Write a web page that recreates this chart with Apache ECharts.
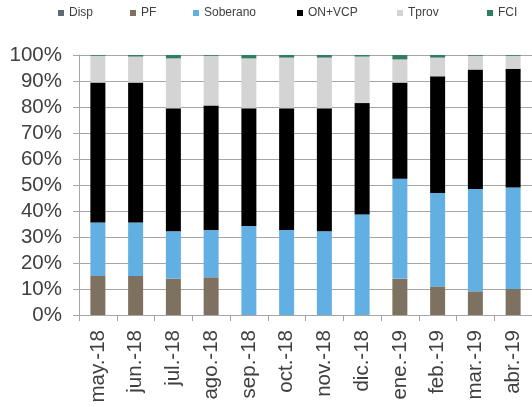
<!DOCTYPE html>
<html>
<head>
<meta charset="utf-8">
<script src="https://cdn.jsdelivr.net/npm/echarts@6/dist/echarts.min.js"></script>
<style>html,body{margin:0;padding:0;background:#fff;}#c{width:532px;height:407px;}</style>
</head>
<body>
<div id="c"></div>
<script>
const categories = ['may.-18','jun.-18','jul.-18','ago.-18','sep.-18','oct.-18','nov.-18','dic.-18','ene.-19','feb.-19','mar.-19','abr.-19'];
const disp     = [0, 0, 0, 0, 0, 0, 0, 0, 0, 0, 0, 0];
const pf       = [15.0, 15.0, 14.0, 14.5, 0, 0, 0, 0, 14.0, 11.0, 9.1, 10.0];
const soberano = [20.6, 20.6, 18.2, 18.2, 34.2, 32.7, 32.2, 38.7, 38.4, 35.9, 39.4, 39.0];
const onvcp    = [53.8, 53.8, 47.3, 47.9, 45.3, 46.8, 47.3, 42.8, 37.0, 44.9, 45.9, 45.7];
const tprov    = [10.3, 10.0, 19.2, 19.1, 19.2, 19.5, 19.5, 17.9, 8.9, 7.2, 5.3, 5.0];
const fci      = [0.3, 0.6, 1.3, 0.3, 1.3, 1.0, 1.0, 0.6, 1.7, 1.0, 0.3, 0.3];
const yTicks = [0, 10, 20, 30, 40, 50, 60, 70, 80, 90, 100];

const names  = ['Disp', 'PF', 'Soberano', 'ON+VCP', 'Tprov', 'FCI'];
const colors = ['#5e6b74', '#7f7160', '#62b0e3', '#000000', '#d3d4d3', '#2f7f5f'];
const values = [disp, pf, soberano, onvcp, tprov, fci];
const legendLeft = [58, 130, 193, 297, 397, 487];

const font = "'Liberation Sans', Arial, sans-serif";
const chart = echarts.init(document.getElementById('c'));
chart.setOption({
  animation: false,
  backgroundColor: '#fff',
  color: colors,
  legend: names.map((n, i) => ({
    data: [n],
    left: legendLeft[i],
    top: 7,
    padding: 0,
    itemWidth: 6,
    itemHeight: 6,
    icon: 'rect',
    textStyle: { fontFamily: font, fontSize: 12, color: '#404040' }
  })),
  grid: { left: 79, right: 0, top: 55, bottom: 92, containLabel: false },
  xAxis: {
    type: 'category',
    data: categories,
    axisLine: { lineStyle: { color: '#a6a6a6', width: 1 } },
    axisTick: { show: true, length: 6, lineStyle: { color: '#a6a6a6' } },
    axisLabel: { rotate: 90, fontSize: 20.5, fontFamily: font, color: '#404040', margin: 15 }
  },
  yAxis: {
    type: 'value',
    min: 0, max: 100, interval: 10,
    axisLine: { show: true, lineStyle: { color: '#a6a6a6', width: 1 } },
    axisTick: { show: true, length: 6, lineStyle: { color: '#a6a6a6' } },
    splitLine: { lineStyle: { color: '#a6a6a6', width: 1 } },
    axisLabel: {
      fontSize: 20.5, fontFamily: font, color: '#404040', margin: 17,
      formatter: v => yTicks.includes(v) ? v + '%' : ''
    }
  },
  series: names.map((n, i) => ({
    name: n,
    type: 'bar',
    stack: 'total',
    barWidth: 15,
    data: values[i],
    itemStyle: { color: colors[i] }
  }))
});
</script>
</body>
</html>
